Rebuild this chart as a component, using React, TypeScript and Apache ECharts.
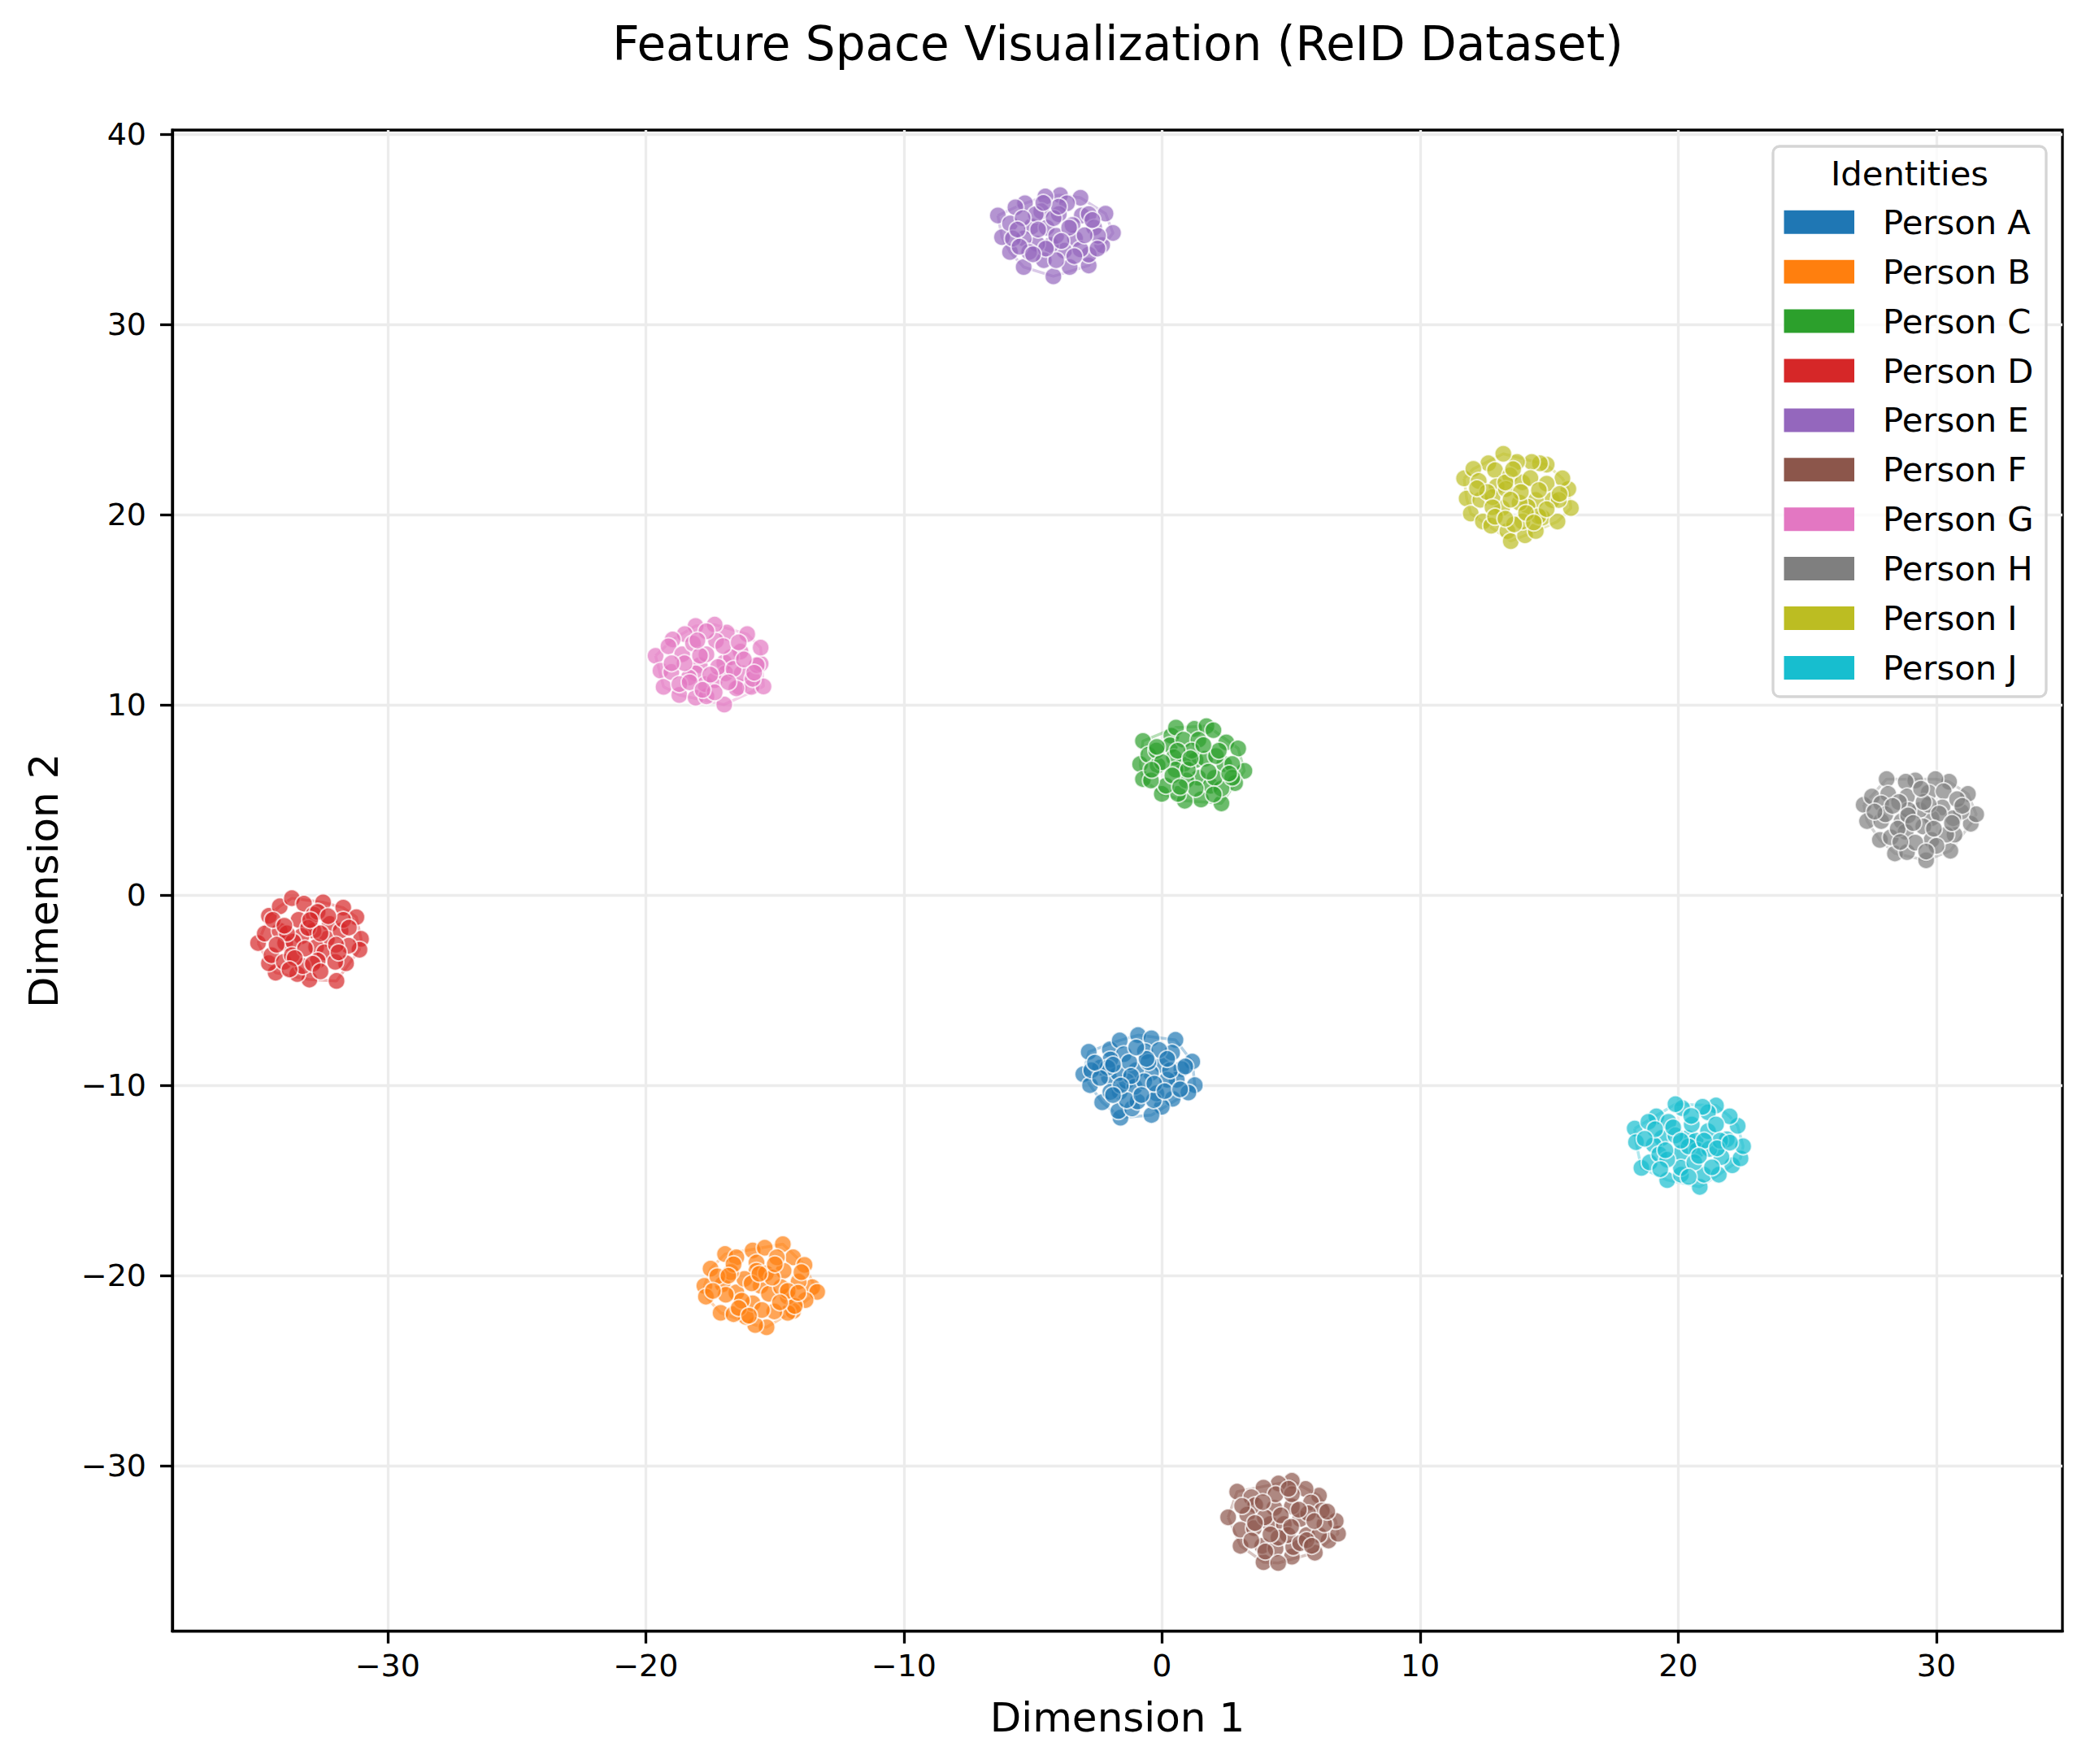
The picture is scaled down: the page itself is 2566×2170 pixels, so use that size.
import React, { useEffect, useRef } from 'react';
import * as echarts from 'echarts';

const TITLE = 'Feature Space Visualization (ReID Dataset)';
const X_NAME = 'Dimension 1';
const Y_NAME = 'Dimension 2';
const LEGEND_TITLE = 'Identities';

const PERSON_NAMES = ['Person A', 'Person B', 'Person C', 'Person D', 'Person E', 'Person F', 'Person G', 'Person H', 'Person I', 'Person J'];
const PERSON_COLORS = ['#1f77b4', '#ff7f0e', '#2ca02c', '#d62728', '#9467bd', '#8c564b', '#e377c2', '#7f7f7f', '#bcbd22', '#17becf'];

const X_TICKS = [-30, -20, -10, 0, 10, 20, 30];
const Y_TICKS = [-30, -20, -10, 0, 10, 20, 30, 40];
const X_RANGE = [-38.34, 34.88];
const Y_RANGE = [-38.69, 40.23];

const personA: number[][] = [
  [-2.84, -8.23], [-3.05, -9.41], [-2.79, -9.98], [-2.32, -10.88], [-2.02, -8.10], [-1.64, -7.63], [-0.93, -7.35], [-0.41, -7.52],
  [0.52, -7.60], [1.17, -8.74], [1.27, -9.98], [1.02, -10.37], [0.41, -10.70], [-0.01, -11.12], [-0.41, -11.55], [-1.61, -11.69],
  [-1.69, -11.34], [-1.16, -11.20], [-0.95, -10.84], [-1.64, -10.34], [-2.06, -9.56], [-2.40, -9.06], [-1.48, -8.35], [-0.66, -8.20],
  [-0.01, -8.92], [0.39, -8.27], [0.75, -9.13], [0.57, -9.70], [-0.22, -10.41], [-0.43, -9.34], [-1.01, -9.20], [-1.37, -9.77],
  [-1.69, -9.34], [0.20, -9.70], [-1.06, -10.06], [-0.11, -8.13], [-2.74, -9.20], [-2.00, -8.63], [-0.69, -9.77], [-1.27, -8.77],
  [-0.53, -8.77], [0.31, -9.20], [-2.00, -10.34], [-0.32, -10.77], [-1.37, -10.77], [-2.11, -9.06],
  [-1.9, -8.9], [-1.2, -9.5], [-0.3, -9.9], [0.1, -10.3], [-0.8, -10.5], [-1.6, -10.0], [-2.4, -9.6], [-0.6, -8.6],
  [0.9, -9.0], [-1.9, -10.5], [0.7, -10.2], [-2.6, -8.8], [-1.0, -8.0], [0.2, -8.6],
];

const personB: number[][] = [
  [-16.93, -18.86], [-17.49, -19.63], [-17.73, -20.53], [-17.67, -21.10], [-17.10, -21.95], [-16.49, -19.03], [-15.86, -18.67], [-15.39, -18.53],
  [-14.69, -18.34], [-14.29, -19.03], [-13.85, -19.43], [-13.55, -20.60], [-13.36, -20.85], [-13.81, -21.28], [-14.29, -21.85], [-14.50, -21.95],
  [-15.02, -21.88], [-15.32, -22.71], [-15.76, -22.59], [-16.12, -22.16], [-16.60, -22.02], [-17.02, -20.45], [-16.49, -20.88], [-15.86, -21.45],
  [-15.55, -20.53], [-15.23, -20.95], [-14.66, -19.74], [-14.92, -19.03], [-15.71, -19.31], [-15.71, -19.74], [-16.18, -20.17], [-14.50, -21.10],
  [-14.08, -20.31], [-14.76, -20.60], [-16.28, -21.31], [-16.70, -19.81], [-17.23, -20.03], [-15.34, -19.88], [-13.97, -19.81], [-14.23, -21.59],
  [-16.6, -19.4], [-15.9, -20.4], [-15.1, -20.1], [-14.5, -20.8], [-16.9, -21.0], [-15.5, -21.8], [-14.1, -20.9], [-16.4, -21.7],
  [-15.0, -19.4], [-17.4, -20.8], [-16.0, -22.1], [-14.8, -21.4], [-15.6, -19.9], [-16.8, -20.0],
];

const personC: number[][] = [
  [-0.74, 8.11], [-0.85, 6.90], [-0.74, 6.11], [-0.01, 5.33], [0.36, 8.39], [0.54, 8.82], [1.25, 8.75], [1.72, 8.89],
  [1.99, 8.68], [2.49, 8.04], [2.95, 7.72], [3.19, 6.54], [2.83, 5.90], [2.30, 4.83], [1.51, 5.04], [0.88, 4.97],
  [0.62, 5.33], [0.15, 5.76], [-0.53, 7.39], [-0.17, 6.83], [0.31, 7.89], [0.83, 8.18], [1.41, 8.18], [1.30, 7.11],
  [0.83, 6.90], [0.46, 7.25], [1.67, 7.18], [2.41, 6.90], [2.72, 6.90], [2.09, 7.32], [1.41, 6.18], [0.94, 6.04],
  [1.88, 5.76], [2.30, 5.61], [2.72, 6.18], [-0.43, 6.04], [-0.22, 7.61], [0.52, 6.61], [1.15, 7.61], [2.04, 6.18],
  [0.0, 7.0], [0.6, 7.6], [1.0, 6.6], [1.8, 6.5], [2.2, 7.6], [0.4, 6.3], [1.3, 5.6], [2.6, 6.4],
  [-0.4, 6.6], [0.7, 5.7], [1.6, 7.9], [2.0, 5.3], [1.1, 7.2], [-0.2, 7.8],
];

const personD: number[][] = [
  [-35.02, -2.51], [-34.60, -1.08], [-34.18, -0.58], [-33.71, -0.15], [-33.24, -0.44], [-32.50, -0.37], [-31.72, -0.65], [-31.21, -1.15],
  [-31.03, -2.29], [-31.09, -2.86], [-31.61, -3.57], [-31.98, -4.50], [-33.03, -4.43], [-33.50, -4.14], [-34.34, -4.07], [-34.60, -3.57],
  [-34.50, -3.15], [-34.76, -2.01], [-34.18, -1.86], [-33.97, -2.51], [-33.45, -1.29], [-32.87, -1.01], [-32.24, -1.51], [-32.35, -2.29],
  [-32.87, -1.86], [-33.34, -2.15], [-33.66, -2.43], [-32.77, -2.72], [-32.45, -3.00], [-32.03, -3.50], [-32.71, -3.43], [-33.29, -3.72],
  [-34.02, -3.50], [-31.82, -1.86], [-31.51, -2.65], [-31.72, -1.29], [-32.71, -0.87], [-34.45, -1.29], [-33.71, -3.15], [-33.08, -1.72],
  [-33.9, -2.0], [-33.2, -2.8], [-32.6, -2.0], [-32.0, -2.6], [-33.6, -3.3], [-32.9, -3.6], [-31.9, -3.0], [-34.3, -2.6],
  [-33.0, -1.3], [-32.3, -1.1], [-31.5, -1.7], [-34.0, -1.6], [-32.6, -4.0], [-33.8, -3.9],
];

const personE: number[][] = [
  [-6.36, 35.74], [-6.20, 34.60], [-5.89, 33.82], [-5.36, 33.03], [-4.21, 32.54], [-3.58, 33.03], [-2.84, 33.11], [-2.32, 34.18],
  [-1.90, 34.82], [-2.19, 35.84], [-3.16, 36.67], [-3.95, 36.81], [-4.52, 36.74], [-5.31, 36.38], [-5.68, 36.17], [-5.89, 35.32],
  [-5.05, 35.17], [-4.47, 35.10], [-4.68, 35.96], [-3.68, 36.38], [-3.11, 35.74], [-2.84, 35.81], [-3.37, 34.53], [-3.79, 33.89],
  [-4.31, 34.18], [-4.84, 34.25], [-5.36, 34.53], [-4.58, 33.39], [-3.47, 35.24], [-4.00, 35.81], [-5.78, 34.53], [-5.15, 33.82],
  [-2.84, 33.68], [-3.16, 33.96], [-4.10, 34.67], [-2.63, 35.10], [-4.89, 35.81], [-5.52, 34.10], [-4.10, 33.39], [-2.48, 34.67],
  [-5.4, 35.6], [-4.8, 35.0], [-4.2, 35.6], [-3.6, 35.1], [-3.0, 34.7], [-4.5, 34.0], [-3.9, 34.4], [-5.0, 33.7],
  [-3.4, 33.6], [-5.6, 35.0], [-2.7, 35.5], [-4.0, 36.2], [-4.6, 36.4], [-2.5, 34.0],
];

const personF: number[][] = [
  [2.91, -31.35], [2.56, -32.70], [3.04, -34.20], [3.93, -35.06], [5.03, -34.77], [5.92, -34.56], [6.45, -33.92], [6.82, -33.56],
  [6.73, -32.89], [6.08, -31.56], [5.56, -31.21], [5.03, -30.78], [4.51, -30.92], [3.93, -31.14], [3.46, -31.64], [3.61, -32.06],
  [3.30, -32.56], [3.04, -33.35], [3.56, -33.27], [3.88, -34.20], [4.40, -34.34], [5.08, -34.27], [5.61, -33.63], [6.08, -33.63],
  [6.29, -33.06], [5.35, -32.78], [5.03, -32.13], [4.35, -32.21], [4.19, -33.06], [4.72, -33.06], [4.87, -33.63], [3.98, -32.70],
  [5.77, -31.92], [6.19, -32.35], [5.66, -32.49], [4.51, -33.77], [3.46, -33.92], [5.35, -34.06], [4.40, -31.49], [5.03, -31.49],
  [3.9, -31.9], [4.6, -32.6], [5.3, -32.3], [5.9, -32.9], [3.6, -33.0], [4.2, -33.6], [5.0, -33.2], [5.6, -33.9],
  [4.0, -34.5], [6.4, -32.4], [3.1, -32.1], [4.9, -31.2], [5.8, -34.2], [4.5, -35.1],
];

const personG: number[][] = [
  [-19.62, 12.59], [-19.43, 11.81], [-19.31, 10.96], [-18.70, 10.53], [-18.07, 10.39], [-17.65, 10.46], [-16.96, 10.03], [-16.39, 10.96],
  [-15.91, 10.96], [-15.44, 10.98], [-15.55, 12.17], [-15.55, 13.02], [-16.07, 13.73], [-16.86, 13.81], [-17.33, 14.23], [-18.07, 14.16],
  [-18.49, 13.73], [-18.96, 13.45], [-19.12, 13.09], [-18.59, 12.67], [-17.91, 12.10], [-18.07, 11.67], [-18.33, 11.45], [-19.01, 11.74],
  [-18.70, 11.10], [-17.70, 11.10], [-17.33, 11.31], [-16.96, 12.24], [-17.28, 13.38], [-17.65, 13.88], [-16.91, 11.67], [-16.33, 12.81],
  [-16.28, 11.67], [-15.86, 11.38], [-15.70, 12.10], [-16.70, 12.52], [-17.65, 12.67], [-18.17, 13.24], [-16.49, 10.88], [-17.33, 10.67],
  [-18.5, 12.2], [-17.9, 12.6], [-17.2, 12.0], [-16.6, 11.9], [-18.3, 11.2], [-17.5, 11.6], [-16.8, 11.2], [-19.0, 12.2],
  [-16.2, 12.4], [-17.0, 13.1], [-18.0, 13.4], [-15.8, 11.7], [-17.8, 10.8], [-16.4, 13.3],
];

const personH: number[][] = [
  [27.18, 4.76], [27.31, 3.90], [27.81, 2.91], [28.39, 2.20], [28.86, 2.27], [29.60, 1.84], [30.54, 2.34], [30.70, 3.19],
  [31.33, 3.76], [31.54, 4.26], [31.22, 5.33], [30.49, 5.97], [29.96, 6.11], [29.18, 6.04], [28.81, 5.97], [28.07, 6.11],
  [27.50, 5.19], [28.13, 5.33], [27.86, 4.83], [28.86, 5.19], [29.70, 5.40], [30.28, 5.47], [30.23, 4.62], [30.96, 4.40],
  [30.65, 4.05], [29.81, 4.05], [29.34, 4.48], [28.65, 3.90], [27.86, 3.90], [28.23, 3.05], [28.81, 3.34], [29.49, 3.62],
  [29.81, 2.91], [30.38, 3.19], [29.18, 2.77], [28.91, 4.48], [28.02, 4.26], [30.80, 5.05], [29.70, 4.76], [28.55, 4.90],
  [28.3, 4.7], [28.9, 4.2], [29.5, 4.9], [30.1, 4.3], [28.5, 3.5], [29.1, 3.8], [29.9, 3.5], [30.6, 3.8],
  [27.6, 4.4], [29.4, 5.6], [28.6, 2.8], [30.0, 2.6], [31.0, 4.7], [29.6, 2.3],
];

const personI: number[][] = [
  [11.70, 21.92], [11.80, 20.86], [11.96, 20.07], [12.43, 19.65], [12.75, 19.43], [13.38, 19.15], [13.51, 18.62], [14.06, 18.93],
  [14.48, 19.15], [14.74, 19.86], [15.32, 19.65], [15.84, 20.36], [15.74, 21.36], [15.51, 21.92], [14.90, 22.64], [14.64, 22.71],
  [14.32, 22.78], [13.75, 22.78], [13.22, 23.21], [12.64, 22.71], [12.06, 22.42], [12.27, 21.78], [12.90, 22.35], [12.96, 21.50],
  [13.48, 22.07], [13.96, 21.71], [14.27, 21.93], [14.90, 21.64], [15.11, 20.78], [14.48, 20.78], [14.16, 20.43], [13.85, 20.64],
  [13.17, 20.36], [12.33, 20.79], [12.80, 20.93], [13.32, 21.36], [14.58, 19.93], [13.96, 19.65], [15.37, 20.78], [13.64, 19.50],
  [12.6, 21.2], [13.3, 21.7], [13.9, 21.2], [14.6, 21.3], [12.8, 20.4], [13.5, 20.8], [14.1, 20.1], [14.9, 20.3],
  [12.2, 21.4], [13.6, 22.4], [12.9, 19.9], [14.4, 19.6], [15.4, 21.1], [13.3, 19.8],
];

const personJ: number[][] = [
  [18.31, -12.26], [18.36, -12.98], [18.57, -14.33], [18.89, -14.04], [19.57, -14.97], [20.10, -14.69], [20.83, -15.33], [20.99, -14.69],
  [21.57, -14.69], [22.09, -14.19], [22.41, -13.83], [22.51, -13.19], [22.30, -12.12], [21.99, -11.62], [21.46, -11.05], [21.15, -11.41],
  [20.94, -11.12], [20.15, -11.19], [19.89, -10.98], [19.15, -11.62], [18.84, -11.91], [19.62, -11.91], [19.36, -12.76], [19.05, -13.12],
  [19.26, -13.62], [20.10, -13.55], [20.36, -12.76], [20.67, -12.90], [21.15, -12.40], [20.52, -12.05], [21.67, -13.76], [21.88, -12.83],
  [21.46, -12.05], [20.73, -13.40], [21.20, -13.33], [20.10, -14.33], [19.57, -13.90], [20.62, -14.04], [21.62, -12.90], [19.89, -12.62],
  [19.1, -12.3], [19.8, -12.2], [20.4, -13.2], [21.0, -12.9], [19.5, -13.4], [20.1, -12.9], [20.8, -13.7], [21.5, -13.3],
  [18.7, -12.8], [20.5, -11.6], [19.3, -14.4], [21.3, -14.3], [22.0, -13.0], [20.4, -14.8],
];

const PERSON_POINTS = [personA, personB, personC, personD, personE, personF, personG, personH, personI, personJ];

const FONT = "'DejaVu Sans', 'Liberation Sans', sans-serif";

function convexHull(points: number[][]): number[][] {
  const pts = points.slice().sort((a, b) => a[0] - b[0] || a[1] - b[1]);
  const cross = (o: number[], a: number[], b: number[]) => (a[0] - o[0]) * (b[1] - o[1]) - (a[1] - o[1]) * (b[0] - o[0]);
  const lower: number[][] = [];
  for (const p of pts) {
    while (lower.length >= 2 && cross(lower[lower.length - 2], lower[lower.length - 1], p) <= 0) lower.pop();
    lower.push(p);
  }
  const upper: number[][] = [];
  for (let i = pts.length - 1; i >= 0; i--) {
    const p = pts[i];
    while (upper.length >= 2 && cross(upper[upper.length - 2], upper[upper.length - 1], p) <= 0) upper.pop();
    upper.push(p);
  }
  upper.pop();
  lower.pop();
  const hull = lower.concat(upper);
  hull.push(hull[0]);
  return hull;
}

const fmtTick = (v: number) => {
  if (Math.abs(v - Math.round(v / 10) * 10) > 1e-6) return '';
  return v < 0 ? '\u2212' + Math.abs(v) : String(v);
};

export default function App() {
  const ref = useRef<HTMLDivElement>(null);
  useEffect(() => {
    if (!ref.current) return;
    const chart = echarts.init(ref.current, undefined, { renderer: 'svg' });

    const scatterSeries = PERSON_NAMES.map((name, i) => ({
      type: 'scatter',
      name,
      data: PERSON_POINTS[i],
      symbol: 'circle',
      symbolSize: 21,
      itemStyle: { color: PERSON_COLORS[i], opacity: 0.7, borderColor: '#ffffff', borderWidth: 2 },
      emphasis: { disabled: true },
      z: 3,
    }));
    const hullSeries = PERSON_NAMES.map((name, i) => ({
      type: 'line',
      name,
      data: convexHull(PERSON_POINTS[i]),
      symbol: 'none',
      silent: true,
      lineStyle: { color: PERSON_COLORS[i], width: 3.5, opacity: 0.35 },
      itemStyle: { color: PERSON_COLORS[i] },
      emphasis: { disabled: true },
      z: 2,
    }));

    const axisCommon = {
      type: 'value',
      nameLocation: 'middle',
      nameTextStyle: { fontFamily: FONT, fontSize: 50, color: '#000' },
      axisLine: { show: true, onZero: false, lineStyle: { color: '#000', width: 3.3 } },
      axisTick: { show: true, inside: false, length: 15, lineStyle: { color: '#000', width: 3.3 } },
      splitLine: { show: true, lineStyle: { color: '#ececec', width: 3.3 } },
      minorTick: { show: false },
    };

    // legend drawn as graphic elements
    const LEG_X = 2181;
    const LEG_Y = 180;
    const LEG_W = 336;
    const LEG_H = 677;
    const ROW0 = 273.3;
    const ROW_STEP = 60.9;
    const legendItems: any[] = [];
    PERSON_NAMES.forEach((name, i) => {
      const cy = ROW0 + i * ROW_STEP;
      legendItems.push({
        type: 'rect',
        z: 6,
        shape: { x: 2194.5, y: cy - 14.5, width: 86.5, height: 29 },
        style: { fill: PERSON_COLORS[i] },
      });
      legendItems.push({
        type: 'text',
        z: 6,
        x: 2316,
        y: cy,
        style: { text: name, fontFamily: FONT, fontSize: 41.7, fill: '#000', align: 'left', verticalAlign: 'middle' },
      });
    });

    chart.setOption({
      animation: false,
      backgroundColor: '#ffffff',
      grid: {
        left: 212,
        right: 29,
        top: 160,
        bottom: 163.3,
        show: true,
        borderColor: '#000',
        borderWidth: 3.3,
        backgroundColor: 'transparent',
        containLabel: false,
        outerBoundsMode: 'none',
      },
      xAxis: {
        ...axisCommon,
        min: X_RANGE[0],
        max: X_RANGE[1],
        name: X_NAME,
        nameGap: 81,
        axisTick: { ...axisCommon.axisTick, customValues: X_TICKS },
        axisLabel: { customValues: X_TICKS, formatter: fmtTick, fontFamily: FONT, fontSize: 38, color: '#000', margin: 23 },
      },
      yAxis: {
        ...axisCommon,
        min: Y_RANGE[0],
        max: Y_RANGE[1],
        name: Y_NAME,
        nameGap: 133,
        nameRotate: 90,
        axisTick: { ...axisCommon.axisTick, customValues: Y_TICKS },
        axisLabel: { customValues: Y_TICKS, formatter: fmtTick, fontFamily: FONT, fontSize: 38, color: '#000', margin: 32 },
      },
      graphic: [
        {
          type: 'text',
          x: 1375,
          y: 54,
          z: 6,
          style: { text: TITLE, fontFamily: FONT, fontSize: 58, fill: '#000', align: 'center', verticalAlign: 'middle' },
        },
        {
          type: 'rect',
          z: 5,
          shape: { x: LEG_X, y: LEG_Y, width: LEG_W, height: LEG_H, r: 8 },
          style: { fill: 'rgba(255,255,255,0.8)', stroke: '#d5d5d5', lineWidth: 3.3 },
        },
        {
          type: 'text',
          x: LEG_X + LEG_W / 2,
          y: 213,
          z: 6,
          style: { text: LEGEND_TITLE, fontFamily: FONT, fontSize: 41.7, fill: '#000', align: 'center', verticalAlign: 'middle' },
        },
        ...legendItems,
      ],
      series: [...scatterSeries, ...hullSeries],
    });

    return () => chart.dispose();
  }, []);

  return <div ref={ref} style={{ position: 'fixed', left: 0, top: 0, width: 2566, height: 2170 }} />;
}
